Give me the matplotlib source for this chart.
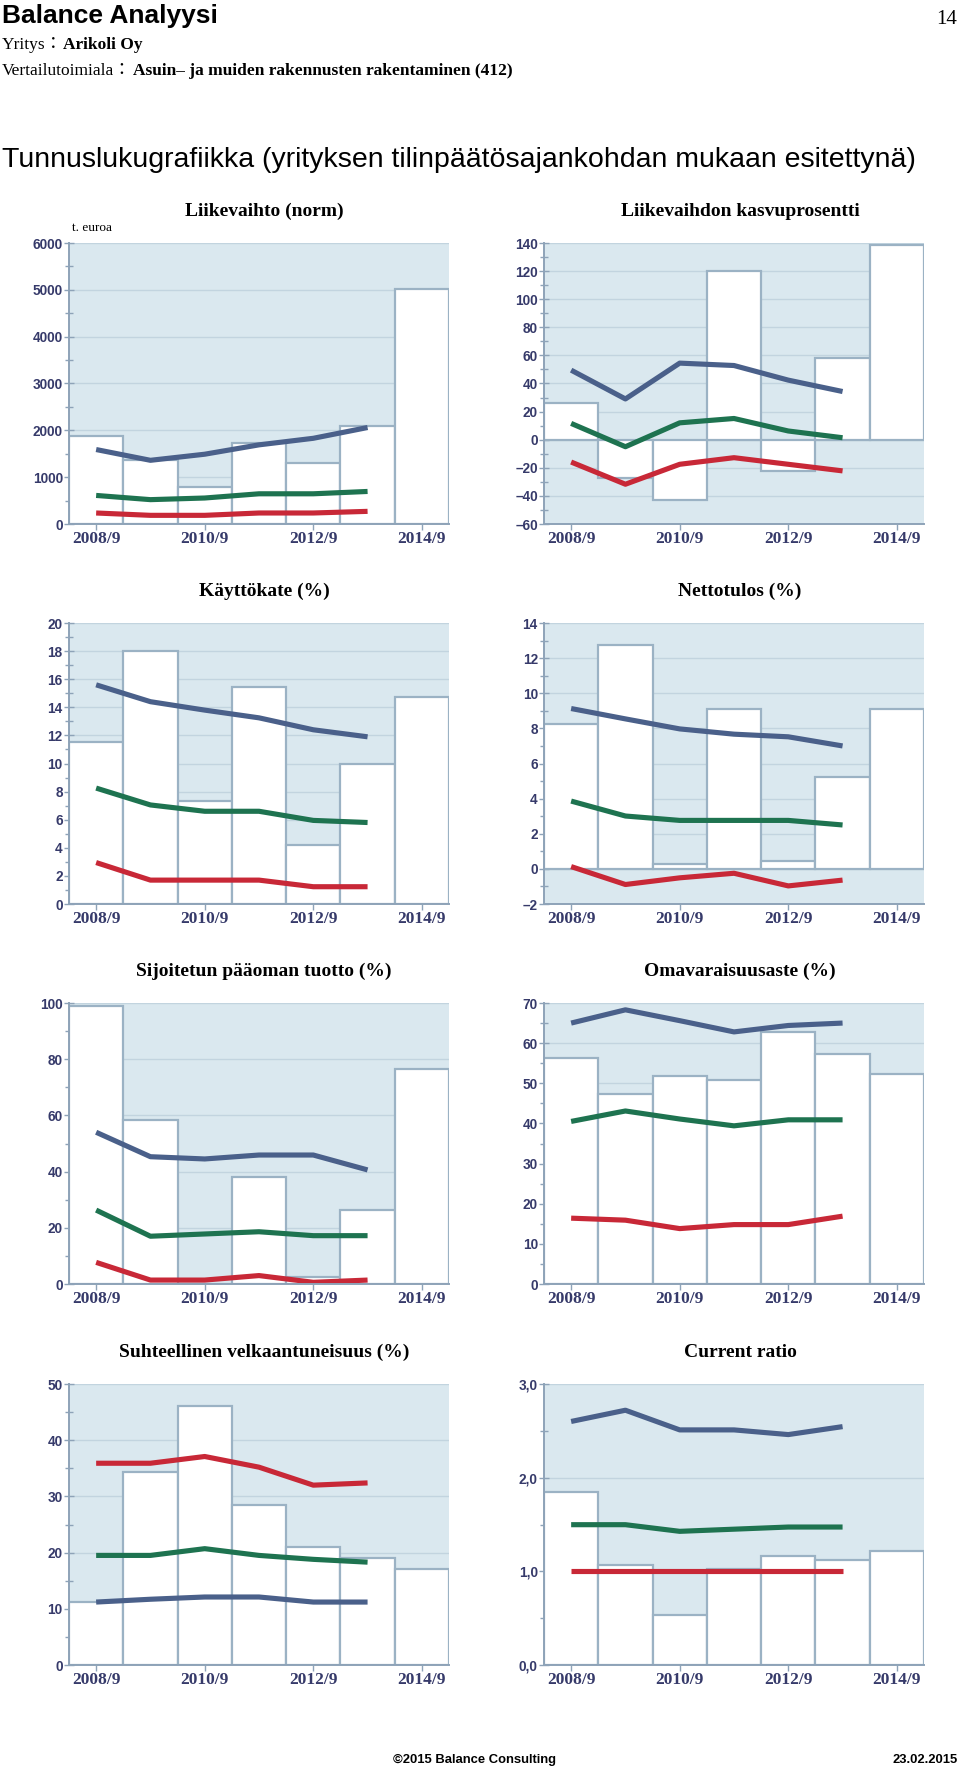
import matplotlib
matplotlib.use('Agg')
import matplotlib.pyplot as plt
from matplotlib.ticker import MultipleLocator, FuncFormatter

# ---------------- data ----------------
periods = ['2008/9', '2009/9', '2010/9', '2011/9', '2012/9', '2013/9', '2014/9']
tick_labels = ['2008/9', '2010/9', '2012/9', '2014/9']

liike_bars = [1870, 1360, 800, 1730, 1310, 2100, 5010]
liike_upper = [1590, 1360, 1490, 1690, 1830, 2060]
liike_median = [610, 520, 555, 645, 645, 695]
liike_lower = [235, 185, 185, 235, 235, 270]

kasvu_bars = [26, -27, -43, 120, -22.5, 58.5, 138.5]
kasvu_upper = [49.5, 29, 54.5, 52.8, 42.4, 34.3]
kasvu_median = [11.6, -5, 12, 15.1, 6.2, 1.4]
kasvu_lower = [-15.9, -31.7, -17.5, -12.8, -17.5, -22.2]

kk_bars = [11.55, 18.0, 7.35, 15.45, 4.2, 10.0, 14.7]
kk_upper = [15.6, 14.4, 13.8, 13.25, 12.4, 11.9]
kk_median = [8.25, 7.05, 6.6, 6.6, 5.95, 5.8]
kk_lower = [2.95, 1.7, 1.7, 1.7, 1.23, 1.23]

nt_bars = [8.26, 12.72, 0.25, 9.1, 0.47, 5.23, 9.1]
nt_upper = [9.13, 8.54, 7.97, 7.67, 7.52, 7.0]
nt_median = [3.86, 3.01, 2.76, 2.76, 2.76, 2.5]
nt_lower = [0.13, -0.89, -0.51, -0.25, -0.97, -0.64]

sp_bars = [99, 58.5, 0.0, 38.2, 2.5, 26.3, 76.5]
sp_upper = [54, 45.3, 44.5, 45.9, 45.9, 40.6]
sp_median = [26.3, 17, 17.8, 18.6, 17.2, 17.2]
sp_lower = [7.7, 1.4, 1.4, 3.0, 0.6, 1.4]

ov_bars = [56.3, 47.4, 51.9, 50.7, 62.8, 57.3, 52.4]
ov_upper = [65.0, 68.3, 65.6, 62.8, 64.4, 65.0]
ov_median = [40.5, 43.1, 41.1, 39.4, 40.9, 40.9]
ov_lower = [16.4, 15.9, 13.8, 14.8, 14.8, 16.9]

sv_bars = [11.2, 34.3, 46.0, 28.5, 21.0, 19.05, 17.1]
sv_upper = [11.2, 11.7, 12.1, 12.1, 11.2, 11.2]
sv_median = [19.5, 19.5, 20.7, 19.5, 18.8, 18.3]
sv_lower = [35.9, 35.9, 37.1, 35.2, 32.0, 32.4]

cr_bars = [1.846, 1.072, 0.536, 1.03, 1.16, 1.125, 1.214]
cr_upper = [2.60, 2.72, 2.51, 2.51, 2.46, 2.545]
cr_median = [1.498, 1.498, 1.427, 1.45, 1.473, 1.473]
cr_lower = [1.0, 1.0, 1.0, 1.0, 1.0, 1.0]

# ---------------- style ----------------
W, H = 960, 1767
BG = '#dae8ef'
GRID = '#c2d4df'
EDGE = '#9bb2c4'
SPINE = '#8ea3b8'
NAVY = '#363a6a'
C_UP = '#4a608a'
C_MED = '#1e7350'
C_LOW = '#c82837'
SERIF = ['Liberation Serif', 'DejaVu Serif']
SANS = ['Liberation Sans', 'DejaVu Sans']

fig = plt.figure(figsize=(W / 100, H / 100), dpi=100)


def fx(x):
    return x / W


def fy(y):
    return 1 - y / H


def dash_fmt(dec=0, comma=False):
    def f(v, pos):
        s = f"{v:.{dec}f}"
        if comma:
            s = s.replace('.', ',')
        return s.replace('-', '\u2013')
    return FuncFormatter(f)


charts = [
    dict(title='Liikevaihto (norm)', bars=liike_bars, up=liike_upper, med=liike_median, low=liike_lower,
         ylim=(0, 6000), major=1000, minor=500, fmt=dash_fmt(), col=0, row=0),
    dict(title='Liikevaihdon kasvuprosentti', bars=kasvu_bars, up=kasvu_upper, med=kasvu_median, low=kasvu_lower,
         ylim=(-60, 140), major=20, minor=10, fmt=dash_fmt(), col=1, row=0),
    dict(title='Käyttökate (%)', bars=kk_bars, up=kk_upper, med=kk_median, low=kk_lower,
         ylim=(0, 20), major=2, minor=1, fmt=dash_fmt(), col=0, row=1),
    dict(title='Nettotulos (%)', bars=nt_bars, up=nt_upper, med=nt_median, low=nt_lower,
         ylim=(-2, 14), major=2, minor=1, fmt=dash_fmt(), col=1, row=1),
    dict(title='Sijoitetun pääoman tuotto (%)', bars=sp_bars, up=sp_upper, med=sp_median, low=sp_lower,
         ylim=(0, 100), major=20, minor=10, fmt=dash_fmt(), col=0, row=2),
    dict(title='Omavaraisuusaste (%)', bars=ov_bars, up=ov_upper, med=ov_median, low=ov_lower,
         ylim=(0, 70), major=10, minor=5, fmt=dash_fmt(), col=1, row=2),
    dict(title='Suhteellinen velkaantuneisuus (%)', bars=sv_bars, up=sv_upper, med=sv_median, low=sv_lower,
         ylim=(0, 50), major=10, minor=5, fmt=dash_fmt(), col=0, row=3),
    dict(title='Current ratio', bars=cr_bars, up=cr_upper, med=cr_median, low=cr_lower,
         ylim=(0, 3), major=1, minor=0.5, fmt=dash_fmt(1, True), col=1, row=3),
]

col_left = [69, 544]
col_title_x = [264, 740]
row_top = [243, 623, 1003, 1384]
AX_W, AX_H = 380, 281

for c in charts:
    left = col_left[c['col']]
    top = row_top[c['row']]
    ax = fig.add_axes([fx(left), fy(top + AX_H), AX_W / W, AX_H / H])
    ax.set_facecolor(BG)
    xb = list(range(len(periods)))
    ax.bar(xb, c['bars'], width=1.0, color='white', edgecolor=EDGE, linewidth=1.6, zorder=2)
    xl = xb[:len(c['up'])]
    for series, col in ((c['up'], C_UP), (c['med'], C_MED), (c['low'], C_LOW)):
        ax.plot(xl, series, color=col, lw=3.7, solid_capstyle='butt', solid_joinstyle='round', zorder=3)
    ax.set_xlim(-0.5, 6.5)
    ax.set_ylim(*c['ylim'])
    ax.yaxis.set_major_locator(MultipleLocator(c['major']))
    ax.yaxis.set_minor_locator(MultipleLocator(c['minor']))
    ax.yaxis.set_major_formatter(c['fmt'])
    ax.set_xticks([periods.index(t) for t in tick_labels])
    ax.set_xticklabels(tick_labels)
    ax.set_axisbelow(True)
    ax.yaxis.grid(True, which='major', color=GRID, lw=1.0, zorder=0)
    for s in ('top', 'right'):
        ax.spines[s].set_visible(False)
    for s in ('left', 'bottom'):
        ax.spines[s].set_color(SPINE)
        ax.spines[s].set_linewidth(1.4)
        ax.spines[s].set_zorder(4)
    ax.tick_params(axis='y', which='both', direction='inout', color=SPINE, width=1.0, pad=1)
    ax.tick_params(axis='y', which='major', length=7)
    ax.tick_params(axis='y', which='minor', length=6)
    ax.tick_params(axis='x', which='major', direction='out', length=4, color=SPINE, width=1.0, pad=1)
    for lab in ax.get_yticklabels():
        lab.set_fontfamily(SANS)
        lab.set_fontweight('bold')
        lab.set_fontsize(9.8)
        lab.set_color(NAVY)
    for lab in ax.get_xticklabels():
        lab.set_fontfamily(SERIF)
        lab.set_fontweight('bold')
        lab.set_fontsize(12.5)
        lab.set_color(NAVY)
    fig.text(fx(col_title_x[c['col']]), fy(top - 32), c['title'], ha='center', va='center',
             fontsize=14, fontweight='bold', family=SERIF, color='black')

fig.text(fx(72), fy(228), 't. euroa', ha='left', va='center', fontsize=9.5, family=SERIF, color='black')

# ---------------- header / footer ----------------
fig.text(fx(2), fy(23.5), 'Balance Analyysi', ha='left', va='baseline', fontsize=19,
         fontweight='bold', family=SANS, color='black')
fig.text(fx(957), fy(23.5), '14', ha='right', va='baseline', fontsize=15, family=SERIF, color='black')
fig.text(fx(2), fy(49), 'Yritys\uff1a', ha='left', va='baseline', fontsize=12.5,
         family=['Liberation Serif', 'Noto Sans CJK JP'], color='black')
fig.text(fx(63), fy(49), 'Arikoli Oy', ha='left', va='baseline', fontsize=12.5,
         fontweight='bold', family=SERIF, color='black')
fig.text(fx(2), fy(75), 'Vertailutoimiala\uff1a', ha='left', va='baseline', fontsize=12.5,
         family=['Liberation Serif', 'Noto Sans CJK JP'], color='black')
fig.text(fx(133), fy(75), 'Asuin\u2013 ja muiden rakennusten rakentaminen (412)', ha='left', va='baseline',
         fontsize=12.5, fontweight='bold', family=SERIF, color='black')
fig.text(fx(2), fy(167), 'Tunnuslukugrafiikka (yrityksen tilinpäätösajankohdan mukaan esitettynä)',
         ha='left', va='baseline', fontsize=20.5, family=SANS, color='black')

fig.text(fx(393), fy(1763), '\u00a92015 Balance Consulting', ha='left', va='baseline', fontsize=9.4,
         fontweight='bold', family=SANS, color='black')
fig.text(fx(958), fy(1763), '23.02.2015', ha='right', va='baseline', fontsize=9.4,
         fontweight='bold', family=SANS, color='black')

fig.savefig('out.png', dpi=100, facecolor='white')
